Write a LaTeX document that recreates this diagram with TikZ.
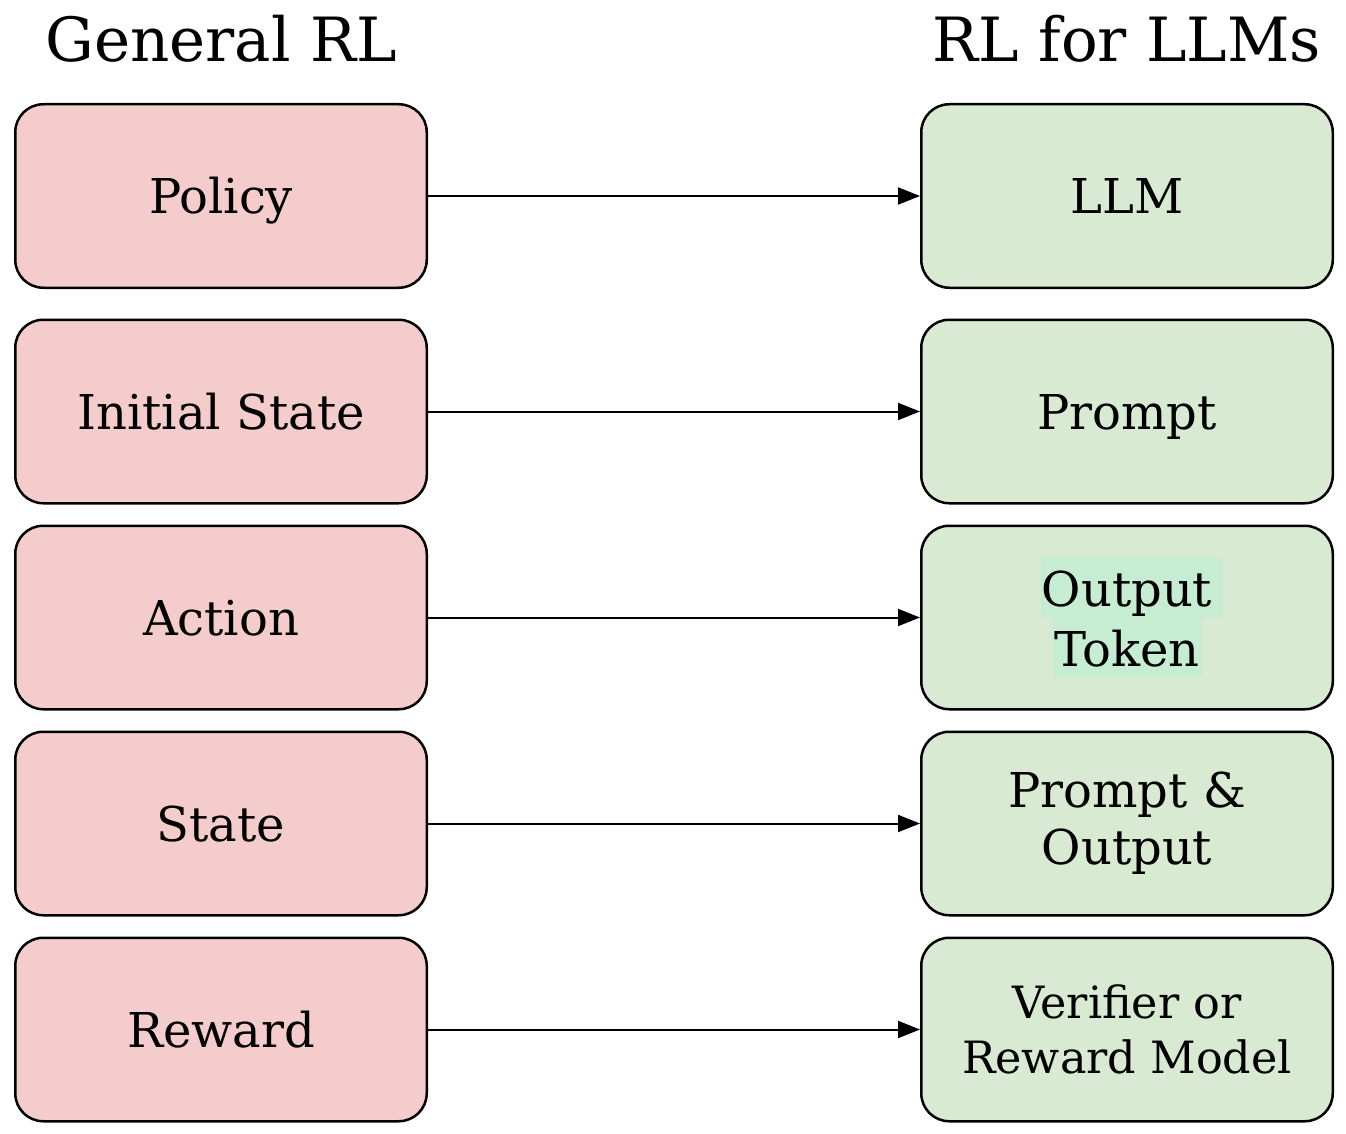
\documentclass[tikz,border=0pt]{standalone}
\usepackage{fontspec}
\setmainfont{DejaVu Serif}
\usetikzlibrary{arrows.meta}

\begin{document}
\begin{tikzpicture}[x=1pt, y=-1pt,
  card/.style={draw=black, line width=2.5pt, rounded corners=28pt,
    minimum width=411.5pt, minimum height=183.5pt, align=center,
    font=\fontsize{48}{57}\selectfont},
  oneline/.style={text height=35pt, text depth=0pt},
  generalcard/.style={card, oneline, fill=rlpink},
  llmcard/.style={card, fill=llmgreen},
  maparrow/.style={line width=2pt, -{Triangle[length=22pt, width=17pt]}},
  heading/.style={anchor=base, font=\fontsize{61}{70}\selectfont}]

%─────────────
% Controls
%─────────────
\def\leftx{221}   % Center of the General RL column
\def\rightx{1127} % Center of the RL for LLMs column
\definecolor{rlpink}{HTML}{F4CCCC}
\definecolor{llmgreen}{HTML}{D9EAD3}
\definecolor{hlgreen}{HTML}{C6EDD2}

\useasboundingbox (0,0) rectangle (1346,1134);

% Highlight behind a line of text (#2 = part that sticks out on the right)
\newcommand{\hilite}[2][]{{\setlength{\fboxsep}{1pt}%
  \colorbox{hlgreen}{\rule[-10pt]{0pt}{57pt}#2\rlap{\colorbox{hlgreen}{\rule[-10pt]{0pt}{57pt}#1}}}}}

%───────────────────────────────────────────────────────
% One row: general card -> LLM card
% #1 = y of row center, #2 = name, #3 = left text,
% #4 = right text, #5 = extra style of the right card
%───────────────────────────────────────────────────────
\newcommand{\drawMappingRow}[5]{%
  \node[generalcard] (gen#2) at (\leftx,#1) {#3};
  \node[llmcard, #5] (llm#2) at (\rightx,#1) {#4};
  \draw[maparrow] (gen#2.east) -- (llm#2.west);
}

%─────────────
% Headings
%─────────────
\node[heading] (genhead) at (\leftx,62) {General RL};
\node[heading] (llmhead) at (\rightx,62) {RL for LLMs};

%─────────────
% Rows
%─────────────
\drawMappingRow{196}{policy}{Policy}{LLM}{oneline}
\drawMappingRow{411.5}{init}{Initial State}{Prompt}{oneline}
\drawMappingRow{617.5}{action}{Action}{\hilite[\kern9pt]{Output}\\[-2pt]\hilite{Token}}{}
\drawMappingRow{823.5}{state}{State}{Prompt \&\\Output}{}
\drawMappingRow{1029.5}{reward}{Reward}{Verifier or\\Reward Model}{font=\fontsize{44.5}{55}\selectfont}

\end{tikzpicture}
\end{document}
